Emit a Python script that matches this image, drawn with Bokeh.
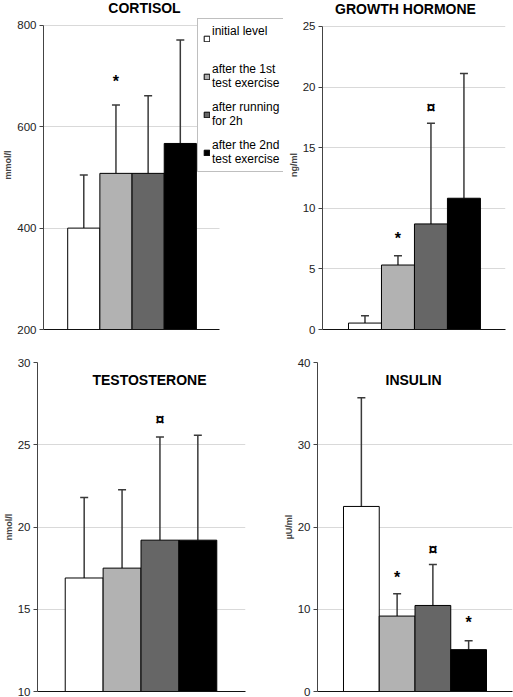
from bokeh.plotting import figure
from bokeh.models import (Range1d, FixedTicker, Whisker, TeeHead, ColumnDataSource,
                          Legend, LegendItem, Label)
from bokeh.layouts import row, column
from bokeh.embed import file_html
from bokeh.resources import INLINE
from bokeh.core.properties import value

FONT = "Liberation Sans"

# ---- data ----
legend_labels = ["initial level\n ", "after the 1st\ntest exercise",
                 "after running\nfor 2h", "after the 2nd\ntest exercise"]
x_pos = [1, 2, 3, 4]
colors = ["#ffffff", "#b2b2b2", "#666666", "#000000"]

cortisol_mean = [400, 508, 508, 567]
cortisol_upper = [505, 643, 661, 771]
cortisol_ticks = [200, 400, 600, 800]
cortisol_mark_x = [2]
cortisol_mark_y = [689]
cortisol_mark_text = ["*"]

gh_mean = [0.53, 5.32, 8.71, 10.83]
gh_upper = [1.13, 6.09, 17.02, 21.13]
gh_ticks = [0, 5, 10, 15, 20, 25]
gh_mark_x = [2, 3]
gh_mark_y = [7.5, 18.3]
gh_mark_text = ["*", "¤"]

testo_mean = [16.9, 17.5, 19.2, 19.2]
testo_upper = [21.8, 22.26, 25.47, 25.58]
testo_ticks = [10, 15, 20, 25, 30]
testo_mark_x = [3]
testo_mark_y = [26.55]
testo_mark_text = ["¤"]

insulin_mean = [22.5, 9.17, 10.46, 5.09]
insulin_upper = [35.7, 11.88, 15.43, 6.18]
insulin_ticks = [0, 10, 20, 30, 40]
insulin_mark_x = [2, 3, 4]
insulin_mark_y = [13.9, 17.3, 8.33]
insulin_mark_text = ["*", "¤", "*"]


def panel(unit, means, uppers, ticks, mx, my, mt, width, height,
          borders, xr, bar_span, y_top):
    left, right, top, bottom = borders
    p = figure(width=width, height=height, output_backend="svg",
               toolbar_location=None, x_range=Range1d(*xr),
               y_range=Range1d(ticks[0], y_top),
               min_border_left=left, min_border_right=right,
               min_border_top=top, min_border_bottom=bottom)
    p.outline_line_color = None
    p.background_fill_color = "white"
    src = ColumnDataSource(dict(x=x_pos, mean=means, upper=uppers, color=colors))
    bars = p.vbar(x="x", top="mean", bottom=ticks[0], width=1, source=src,
                  fill_color="color", line_color="#000000", line_width=1)
    w = Whisker(base="x", lower="mean", upper="upper", source=src,
                line_color="#3a3a3a", line_width=1.5, lower_head=None,
                upper_head=TeeHead(size=8, line_color="#3a3a3a", line_width=1.5))
    p.add_layout(w)
    p.text(x=mx, y=my, text=mt, text_font=value(FONT), text_font_style="bold",
           text_font_size="16px", text_align="center", text_baseline="middle",
           text_color="#000000")
    # axes
    p.yaxis.ticker = FixedTicker(ticks=ticks)
    p.yaxis.bounds = (ticks[0], ticks[-1])
    p.yaxis.minor_tick_line_color = None
    p.yaxis.major_tick_in = 0
    p.yaxis.major_tick_out = 4
    p.yaxis.major_label_standoff = 3
    p.yaxis.major_label_text_font = FONT
    p.yaxis.major_label_text_font_size = "11.5px"
    p.yaxis.major_label_text_color = "#222222"
    p.yaxis.axis_line_color = "#444444"
    p.yaxis.major_tick_line_color = "#444444"
    p.yaxis.axis_label = unit
    p.yaxis.axis_label_text_font = FONT
    p.yaxis.axis_label_text_font_size = "9px"
    p.yaxis.axis_label_text_font_style = "bold"
    p.yaxis.axis_label_standoff = 1
    p.xaxis.ticker = FixedTicker(ticks=[])
    p.xaxis.major_tick_line_color = None
    p.xaxis.minor_tick_line_color = None
    p.xaxis.major_tick_out = 0
    p.xaxis.major_tick_in = 0
    p.xaxis.minor_tick_out = 0
    p.xaxis.minor_tick_in = 0
    p.xaxis.major_label_text_font_size = "0px"
    p.xaxis.major_label_standoff = 0
    p.xaxis.axis_line_color = "#111111"
    p.xaxis.bounds = (xr[0], bar_span)
    p.xgrid.visible = False
    p.ygrid.grid_line_color = "#d9d9d9"
    p.ygrid.grid_line_width = 1
    p.ygrid.cross_bounds = (xr[0], bar_span)
    return p, bars


def inner_title(p, text, pos):
    p.add_layout(Label(x=pos[0], y=pos[1], x_units="screen", y_units="screen",
                       text=text, text_font=FONT, text_font_style="bold",
                       text_font_size="14px", text_align="center",
                       text_baseline="middle", text_color="#000000"))


p1, bars1 = panel("mmol/l", cortisol_mean, cortisol_upper, cortisol_ticks,
                  cortisol_mark_x, cortisol_mark_y, cortisol_mark_text,
                  285, 340, (35, 2, 0, 9), (-0.252, 7.207), 5.22, 849.0)
inner_title(p1, "CORTISOL", (101, 322))
p2, _ = panel("ng/ml", gh_mean, gh_upper, gh_ticks,
              gh_mark_x, gh_mark_y, gh_mark_text,
              228, 340, (30, 8, 0, 11), (-0.288, 5.26), 5.26, 27.145)
inner_title(p2, "GROWTH HORMONE", (83, 321))
p3, _ = panel("nmol/l", testo_mean, testo_upper, testo_ticks,
              testo_mark_x, testo_mark_y, testo_mark_text,
              260, 357, (35, 15, 22, 6), (-0.232, 5.258), 5.258, 30)
inner_title(p3, "TESTOSTERONE", (112, 312))
p4, _ = panel("µU/ml", insulin_mean, insulin_upper, insulin_ticks,
              insulin_mark_x, insulin_mark_y, insulin_mark_text,
              253, 357, (57, 1, 22, 6), (-0.227, 5.227), 5.227, 40)
inner_title(p4, "INSULIN", (96, 312))

legend = Legend(items=[LegendItem(label=legend_labels[i], renderers=[bars1], index=i)
                       for i in range(4)],
                location=(154, 157), orientation="vertical",
                label_text_font=FONT, label_text_font_size="12px",
                label_text_color="#000000",
                glyph_width=7, glyph_height=7, label_standoff=2,
                spacing=10, padding=5, margin=0,
                border_line_color="#7f7f7f", border_line_width=1,
                background_fill_color="white", background_fill_alpha=1.0)
p1.add_layout(legend)

layout = column(row(p1, p2), row(p3, p4))
open("out.html", "w").write(file_html(layout, INLINE))
